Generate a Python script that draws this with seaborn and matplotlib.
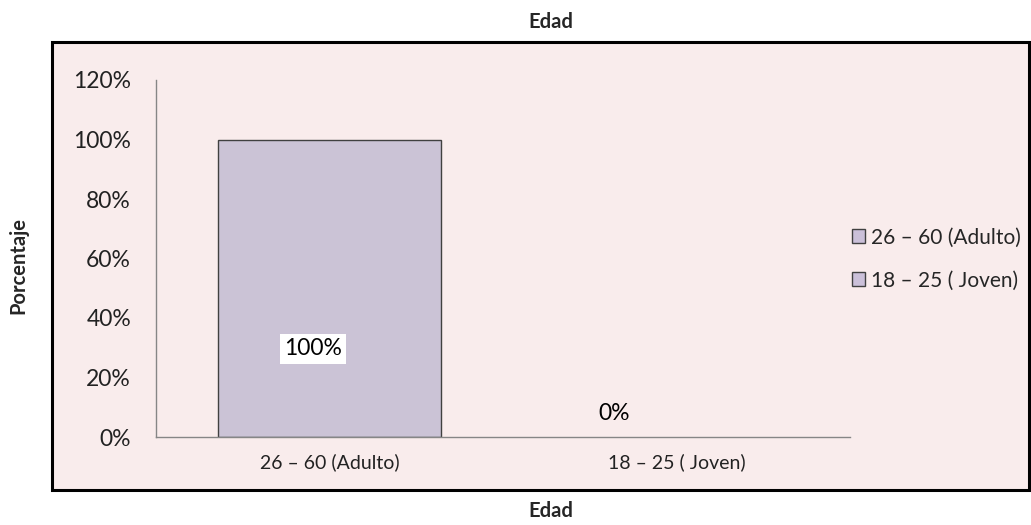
import matplotlib
matplotlib.use("Agg")
import matplotlib.pyplot as plt
from matplotlib.patches import Rectangle, Patch
from matplotlib.ticker import PercentFormatter
import seaborn as sns
import pandas as pd

# Data
categories = ["26 – 60 (Adulto)", "18 – 25 ( Joven)"]
values = [1.00, 0.00]
value_labels = ["100%", "0%"]
y_ticks = [0.0, 0.2, 0.4, 0.6, 0.8, 1.0, 1.2]

bar_color = "#CBC0D9"
panel_color = "#F9ECEC"
axis_gray = "#868686"

sns.set_theme(style="white")
plt.rcParams["font.family"] = ["Lato", "DejaVu Sans"]

fig = plt.figure(figsize=(10.31, 5.25), dpi=100)
fig.patch.set_facecolor("white")

# Pink framed panel behind the plot
panel = Rectangle((52 / 1031, 1 - 490 / 525), (1029 - 52) / 1031, (490 - 42) / 525,
                  transform=fig.transFigure, facecolor=panel_color,
                  edgecolor="black", linewidth=2.2, zorder=-10)
fig.patches.append(panel)

ax = fig.add_axes([156 / 1031, 1 - 437 / 525, (850 - 156) / 1031, (437 - 80) / 525])
ax.set_facecolor("none")
ax.set_zorder(5)

df = pd.DataFrame({"Edad": categories, "Porcentaje": values})
sns.barplot(data=df, x="Edad", y="Porcentaje", hue="Edad", palette=[bar_color, bar_color],
            width=0.643, edgecolor="#404040", linewidth=1.0, legend=False, ax=ax)
# a zero-height bar shows no outline
for p in ax.patches:
    if p.get_height() == 0:
        p.set_edgecolor("none")

ax.set_ylim(0, 1.2)
ax.set_yticks(y_ticks)
ax.yaxis.set_major_formatter(PercentFormatter(1.0, decimals=0))
ax.set_xlim(-0.5, 1.5)
for s in ["top", "right"]:
    ax.spines[s].set_visible(False)
for s in ["left", "bottom"]:
    ax.spines[s].set_color(axis_gray)
    ax.spines[s].set_linewidth(1.0)
ax.tick_params(axis="both", length=0, colors="#222222")
ax.tick_params(axis="y", pad=18, labelsize=16.5)
ax.tick_params(axis="x", pad=12, labelsize=14)
ax.set_xlabel("")
ax.set_ylabel("")

# Value labels
ax.text(0 - 0.047, values[0] * 0.296, value_labels[0], ha="center", va="center", fontsize=16.5,
        color="black", bbox=dict(facecolor="white", edgecolor="none", pad=3))
ax.text(1 - 0.18, values[1] + 0.08, value_labels[1], ha="center", va="center", fontsize=16.5,
        color="black")

# Titles
fig.text(551 / 1031, 1 - 22 / 525, "Edad", ha="center", va="center", fontsize=14.5,
         fontweight="bold")
fig.text(551 / 1031, 1 - 511 / 525, "Edad", ha="center", va="center", fontsize=14.5,
         fontweight="bold")
fig.text(18 / 1031, 1 - 265 / 525, "Porcentaje", ha="center", va="center", fontsize=14.5,
         fontweight="bold", rotation=90)

# Legend
handles = [Patch(facecolor=bar_color, edgecolor="#404040", linewidth=1.0) for _ in categories]
leg = fig.legend(handles, categories, loc="center left", bbox_to_anchor=(835 / 1031, 1 - 259 / 525),
                 frameon=False, fontsize=15, handlelength=0.62, handleheight=0.62,
                 handletextpad=0.3, labelspacing=1.1, borderpad=0.3)
leg.set_zorder(6)

fig.savefig("out.png", dpi=100)
